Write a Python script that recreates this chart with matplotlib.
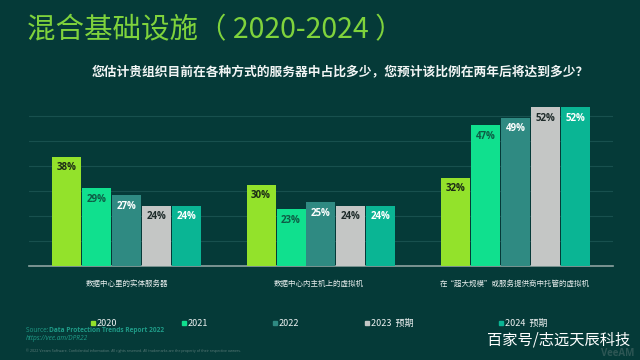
import numpy as np
import matplotlib.pyplot as plt

plt.rcParams['font.family'] = ['Noto Sans CJK SC', 'DejaVu Sans']

# datos
categorias = ["数据中心里的实体服务器", "数据中心内主机上的虚拟机", "在“超大规模”或服务提供商中托管的虚拟机"]
series = ["2020", "2021", "2022", "2023  预期", "2024  预期"]
v2020 = [38, 30, 32]
v2021 = [29, 23, 47]
v2022 = [27, 25, 49]
v2023 = [24, 24, 52]
v2024 = [24, 24, 52]
valores = [v2020, v2021, v2022, v2023, v2024]

colores = ["#93e22b", "#10e08e", "#2f8a82", "#c4c6c5", "#0ab594"]
col_texto = ["#1c2a16", "#0d5c45", "#ffffff", "#1e2b2a", "#ffffff"]
fondo = "#053a38"

fig = plt.figure(figsize=(6.4, 3.6), dpi=100, facecolor=fondo)
ax = fig.add_axes([0.0453, 0.262, 0.9125, 0.4986])
ax.set_facecolor(fondo)

x = np.arange(len(categorias))
paso = 0.154
ancho = 0.149
for i, vals in enumerate(valores):
    pos = x + (i - 2) * paso
    ax.bar(pos, vals, width=ancho, color=colores[i], zorder=3)
    for p, v in zip(pos, vals):
        ax.text(p, v - 1.6, f"{v}%", ha="center", va="top", fontsize=7,
                fontweight="bold", color=col_texto[i], zorder=4,
                family=["Open Sans", "DejaVu Sans"])

ax.set_xlim(-0.5, 2.5)
ax.set_ylim(7, 58)
ax.set_yticks([7 + 7.1 * k for k in range(1, 7)])
ax.yaxis.grid(True, color="#18504e", lw=0.8, zorder=0)
ax.tick_params(left=False, bottom=False, labelleft=False, labelbottom=False)
for s in ["top", "right", "left"]:
    ax.spines[s].set_visible(False)
ax.spines["bottom"].set_color("#8fa3a1")
ax.spines["bottom"].set_linewidth(1.2)

# etiquetas de categoria
for xc, cat in zip([127, 319, 515], categorias):
    fig.text(xc / 640, 1 - 284 / 360, cat, ha="center", va="center",
             fontsize=5.4, color="#e8eeee")

# titulo y subtitulo
fig.text(27 / 640, 1 - 30 / 360, "混合基础设施（ 2020-2024 ）", ha="left", va="center",
         fontsize=20.5, color="#7fd33c")
fig.text(589 / 640, 1 - 72 / 360,
         "您估计贵组织目前在各种方式的服务器中占比多少，您预计该比例在两年后将达到多少？",
         ha="right", va="center", fontsize=9.2, fontweight="bold", color="#f2f5f5")

# leyenda manual
leg_x = [91, 182, 273, 365, 499]
for lx, nombre, c in zip(leg_x, series, colores):
    fig.patches.append(plt.Rectangle((lx / 640, 1 - 325 / 360), 4 / 640, 4 / 360,
                                     transform=fig.transFigure, color=c, figure=fig))
    fig.text((lx + 6) / 640, 1 - 323 / 360, nombre, ha="left", va="center",
             fontsize=6.5, color="#eef2f2")

# fuente
fig.text(26 / 640, 1 - 330 / 360, "Source: ", ha="left", va="center", fontsize=4.7,
         color="#1f9c88", family=["Open Sans", "DejaVu Sans"])
fig.text(49 / 640, 1 - 330 / 360, "Data Protection Trends Report 2022", ha="left",
         va="center", fontsize=4.7, fontweight="bold", color="#1f9c88",
         family=["Open Sans", "DejaVu Sans"])
fig.text(26 / 640, 1 - 338 / 360, "https://vee.am/DPR22", ha="left", va="center",
         fontsize=4.7, style="italic", color="#1f9c88", family=["Open Sans", "DejaVu Sans"])
fig.text(26 / 640, 1 - 351 / 360,
         "© 2022 Veeam Software. Confidential information. All rights reserved. All trademarks are the property of their respective owners.",
         ha="left", va="center", fontsize=2.6, color="#5d7c7a",
         family=["Open Sans", "DejaVu Sans"])

# marca de agua
fig.text(634 / 640, 1 - 354 / 360, "VeeAM", ha="right", va="center", fontsize=7,
         color="#2d5654", fontweight="bold", family=["Open Sans", "DejaVu Sans"])
fig.text(630 / 640, 1 - 340 / 360, "百家号/志远天辰科技", ha="right", va="center",
         fontsize=11, color="#ffffff")

fig.savefig("out.png", dpi=100, facecolor=fondo)
